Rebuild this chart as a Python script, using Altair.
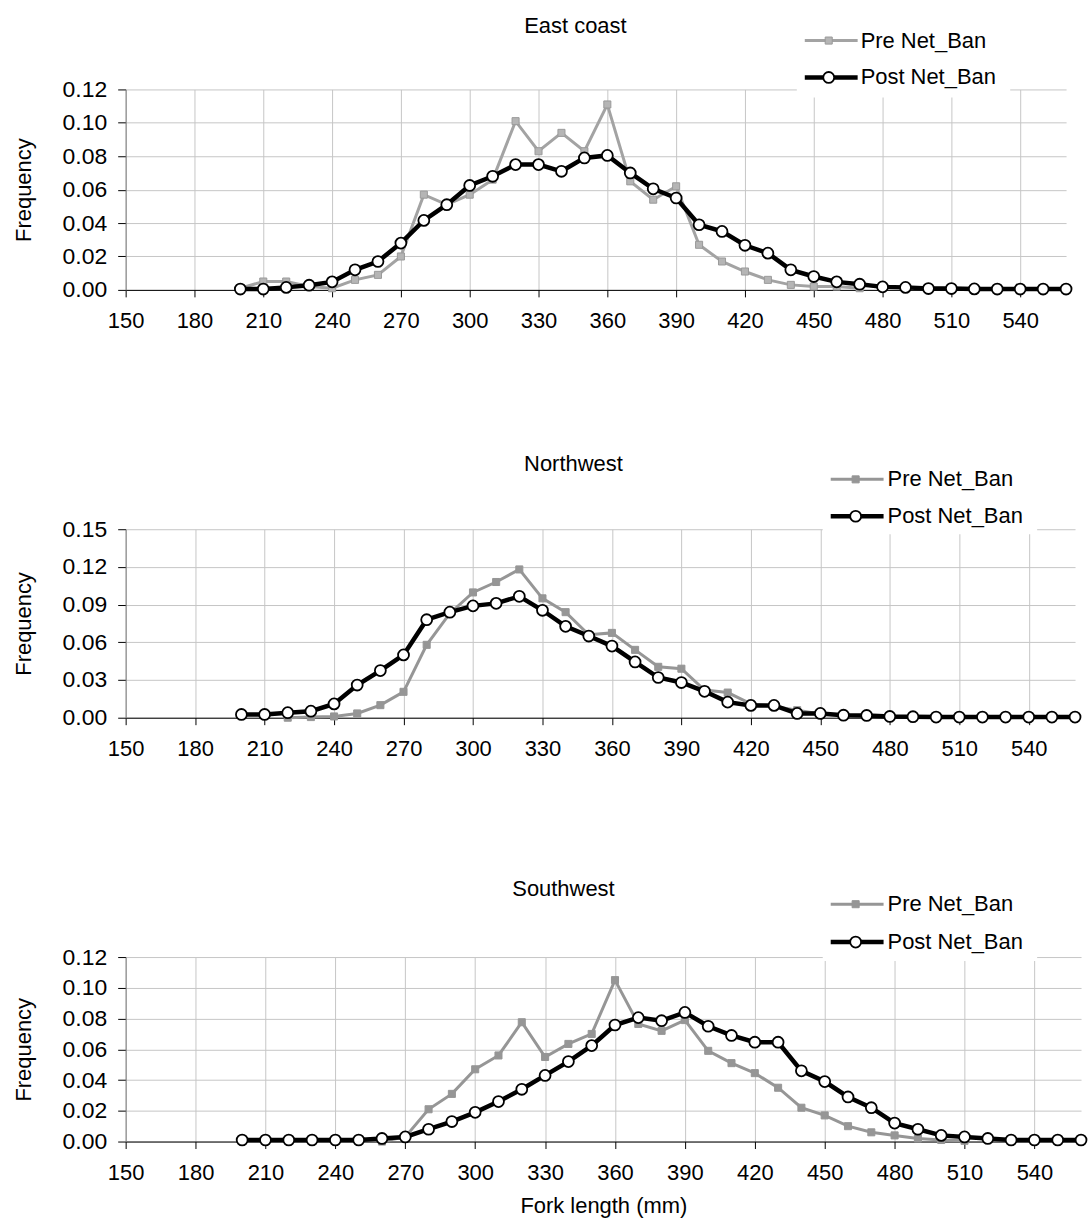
import altair as alt
import pandas as pd

# ---------------- data ----------------
X_POST = list(range(200, 570, 10))  # 200 .. 560

EAST_PRE_X = list(range(200, 480, 10))  # 200 .. 470
EAST_PRE = [0.001, 0.005, 0.005, 0.002, 0.001, 0.006, 0.009, 0.020, 0.057, 0.051,
            0.057, 0.066, 0.101, 0.083, 0.094, 0.083, 0.111, 0.065, 0.054, 0.062,
            0.027, 0.017, 0.011, 0.006, 0.003, 0.002, 0.002, 0.001]
EAST_POST = [0.0005, 0.0005, 0.0015, 0.0028, 0.0048, 0.012, 0.017, 0.028, 0.0416, 0.051,
             0.0625, 0.068, 0.075, 0.075, 0.071, 0.079, 0.0805, 0.070, 0.0605, 0.055,
             0.039, 0.035, 0.0267, 0.022, 0.012, 0.008, 0.0048, 0.0034, 0.0018, 0.0015,
             0.0008, 0.0008, 0.0006, 0.0005, 0.0005, 0.0005, 0.0005]

NW_PRE_X = list(range(220, 480, 10))  # 220 .. 470
NW_PRE = [0.0, 0.0005, 0.001, 0.0034, 0.010, 0.0206, 0.058, 0.083, 0.0997, 0.108,
          0.118, 0.095, 0.084, 0.066, 0.0675, 0.054, 0.0405, 0.039, 0.022, 0.020,
          0.011, 0.009, 0.006, 0.003, 0.002, 0.001]
NW_POST = [0.0026, 0.0026, 0.004, 0.0052, 0.011, 0.026, 0.0375, 0.050, 0.078, 0.084,
           0.089, 0.091, 0.0966, 0.0855, 0.0727, 0.065, 0.057, 0.0444, 0.032, 0.028,
           0.021, 0.0124, 0.0098, 0.0098, 0.0034, 0.0034, 0.002, 0.0018, 0.001, 0.0008,
           0.0005, 0.0005, 0.0005, 0.0005, 0.0005, 0.0005, 0.0005]

SW_PRE_X = list(range(260, 520, 10))  # 260 .. 510
SW_PRE = [0.0, 0.003, 0.021, 0.031, 0.047, 0.056, 0.0776, 0.055, 0.0635, 0.070,
          0.105, 0.0765, 0.072, 0.079, 0.059, 0.051, 0.0445, 0.035, 0.022, 0.017,
          0.010, 0.006, 0.004, 0.002, 0.001, 0.0005]
SW_POST = [0.001, 0.001, 0.001, 0.001, 0.001, 0.001, 0.002, 0.003, 0.008, 0.013,
           0.019, 0.026, 0.034, 0.043, 0.052, 0.0624, 0.0758, 0.0806, 0.0786, 0.084,
           0.075, 0.069, 0.0646, 0.0646, 0.046, 0.039, 0.029, 0.022, 0.012, 0.008,
           0.004, 0.003, 0.002, 0.001, 0.001, 0.001, 0.001]

SERIES = ["Pre Net_Ban", "Post Net_Ban"]
TITLES = ["East coast", "Northwest", "Southwest"]
X_TICKS = list(range(150, 541, 30))
X_DOMAIN = [150, 560]
FONT = "Liberation Sans"
FS = 22


def panel(title, pre_x, pre_y, post_y, ymax, ystep, width, height,
          pre_line, pre_fill, pre_stroke, leg, xtitle):
    pre_df = pd.DataFrame({"x": pre_x, "y": pre_y})
    post_df = pd.DataFrame({"x": X_POST, "y": post_y})
    yvals = [round(i * ystep, 4) for i in range(int(round(ymax / ystep)) + 1)]

    xenc = alt.X("x:Q", scale=alt.Scale(domain=X_DOMAIN, nice=False, zero=False),
                 axis=alt.Axis(values=X_TICKS, format="d", tickSize=7, labelPadding=14,
                               labelFlush=False, domainColor="black", tickColor="black",
                               titlePadding=12),
                 title=xtitle)
    yenc = alt.Y("y:Q", scale=alt.Scale(domain=[0, ymax], nice=False),
                 axis=alt.Axis(values=yvals, format=".2f", tickSize=8, labelPadding=11,
                               labelFlush=False, labelFontSize=23,
                               domainColor="#808080", tickColor="black",
                               titlePadding=27),
                 title="Frequency")

    one = pd.DataFrame({"label": [SERIES[0]]})
    two = pd.DataFrame({"label": [SERIES[1]]})
    ttl = pd.DataFrame({"label": [title]})

    box = alt.Chart(one).mark_rect(color="white").encode(
        x=alt.value(leg["bx0"]), x2=alt.value(leg["bx1"]),
        y=alt.value(-60), y2=alt.value(leg["by1"]))

    pre_line_l = alt.Chart(pre_df).mark_line(color=pre_line, strokeWidth=3).encode(x=xenc, y=yenc)
    pre_pts = alt.Chart(pre_df).mark_point(shape="square", filled=True, fill=pre_fill,
                                           stroke=pre_stroke, strokeWidth=1, size=50,
                                           opacity=1).encode(x=xenc, y=yenc)
    post_line_l = alt.Chart(post_df).mark_line(color="black", strokeWidth=4.5).encode(x=xenc, y=yenc)
    post_pts = alt.Chart(post_df).mark_point(shape="circle", filled=True, fill="white",
                                             stroke="black", strokeWidth=1.8, size=120,
                                             opacity=1).encode(x=xenc, y=yenc)

    l1 = alt.Chart(one).mark_rule(color=pre_line, strokeWidth=3).encode(
        x=alt.value(leg["lx0"]), x2=alt.value(leg["lx1"]), y=alt.value(leg["y1"]))
    p1 = alt.Chart(one).mark_point(shape="square", filled=True, fill=pre_fill, stroke=pre_stroke,
                                   strokeWidth=1, size=50, opacity=1).encode(
        x=alt.value(leg["mx"]), y=alt.value(leg["y1"]))
    t1 = alt.Chart(one).mark_text(align="left", baseline="middle", font=FONT, fontSize=FS,
                                  color="black").encode(
        x=alt.value(leg["tx"]), y=alt.value(leg["y1"]), text="label:N")
    l2 = alt.Chart(two).mark_rule(color="black", strokeWidth=4.5).encode(
        x=alt.value(leg["lx0"]), x2=alt.value(leg["lx1"]), y=alt.value(leg["y2"]))
    p2 = alt.Chart(two).mark_point(shape="circle", filled=True, fill="white", stroke="black",
                                   strokeWidth=1.8, size=120, opacity=1).encode(
        x=alt.value(leg["mx"]), y=alt.value(leg["y2"]))
    t2 = alt.Chart(two).mark_text(align="left", baseline="middle", font=FONT, fontSize=FS,
                                  color="black").encode(
        x=alt.value(leg["tx"]), y=alt.value(leg["y2"]), text="label:N")
    tt = alt.Chart(ttl).mark_text(align="center", baseline="middle", font=FONT, fontSize=FS,
                                  color="black").encode(
        x=alt.value(leg["cx"]), y=alt.value(leg["cy"]), text="label:N")

    return alt.layer(box, pre_line_l, pre_pts, post_line_l, post_pts,
                     l1, p1, t1, l2, p2, t2, tt).properties(width=width, height=height)


leg1 = dict(bx0=673, bx1=887, by1=8, lx0=681, lx1=734, mx=705, tx=737, y1=-49, y2=-12,
            cx=451, cy=-64)
leg2 = dict(bx0=699, bx1=914, by1=5, lx0=707, lx1=760, mx=732, tx=764, y1=-50, y2=-13,
            cx=449, cy=-65)
leg3 = dict(bx0=699, bx1=914, by1=4, lx0=707, lx1=760, mx=732, tx=764, y1=-53, y2=-15,
            cx=439, cy=-68)

c1 = panel(TITLES[0], EAST_PRE_X, EAST_PRE, EAST_POST, 0.12, 0.02, 943, 201,
           "#a3a3a3", "#b5b5b5", "#9a9a9a", leg1, None)
c2 = panel(TITLES[1], NW_PRE_X, NW_PRE, NW_POST, 0.15, 0.03, 952, 189,
           "#969696", "#969696", "#969696", leg2, None)
c3 = panel(TITLES[2], SW_PRE_X, SW_PRE, SW_POST, 0.12, 0.02, 958, 185,
           "#969696", "#969696", "#969696", leg3, "Fork length (mm)")

chart = alt.vconcat(c1, c2, c3, spacing=240, bounds="flush").properties(
    padding={"left": 12, "top": 13, "right": 0, "bottom": 5}
).configure_view(stroke=None).configure_axis(
    labelFont=FONT, labelFontSize=FS, labelColor="black",
    titleFont=FONT, titleFontSize=FS, titleFontWeight="normal", titleColor="black",
    gridColor="#c6c6c6", gridWidth=1, domainWidth=1, tickWidth=1
)

chart.save("out.html", embed_options={"renderer": "svg", "actions": False})
